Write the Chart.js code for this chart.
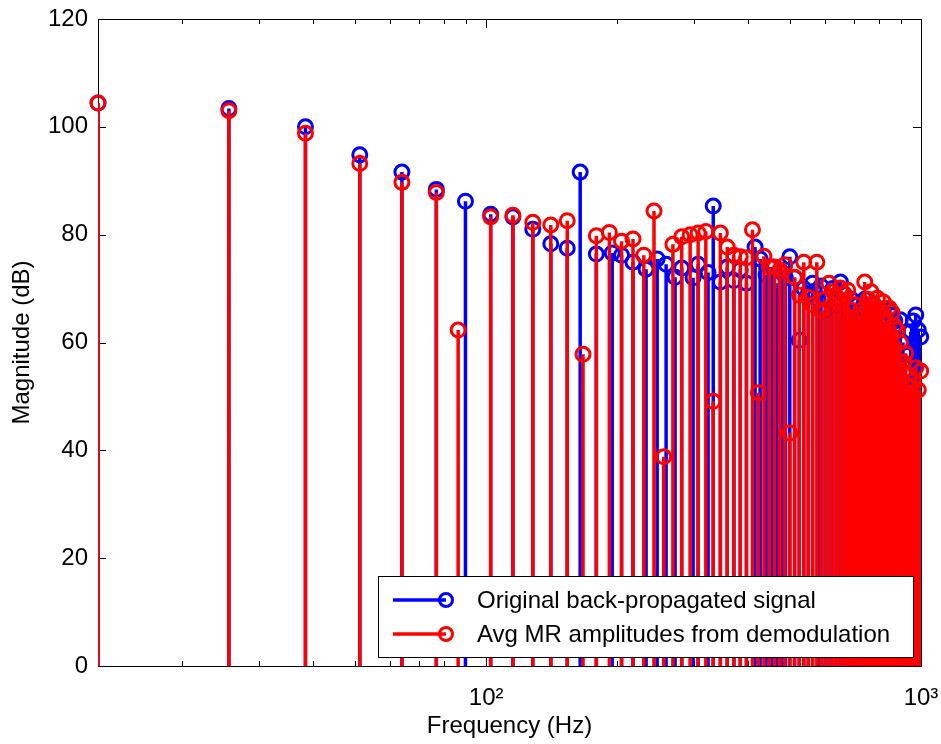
<!DOCTYPE html>
<html>
<head>
<meta charset="utf-8">
<script src="https://cdn.jsdelivr.net/npm/chart.js@4.4.1/dist/chart.umd.min.js"></script>
<style>
  html, body { margin: 0; padding: 0; background: #fff; }
</style>
</head>
<body>
<canvas id="stemChart" width="941" height="744"></canvas>
<script>
const FONT = "'Liberation Sans', Arial, sans-serif";

// axis setup
const xMin = 12.8;
const xMax = 1000;
const xTicks = [20, 30, 40, 50, 60, 70, 80, 90, 100, 200, 300, 400, 500, 600, 700, 800, 900, 1000];
const xTickLabels = { 100: "10²", 1000: "10³" };
const yTicks = [0, 20, 40, 60, 80, 100, 120];

const seriesLabels = ["Original back-propagated signal", "Avg MR amplitudes from demodulation"];
const seriesColors = ["#0000ff", "#ff0000"];

// original back-propagated signal (blue)
const origFreq = [
  12.8, 25.6, 38.4, 51.2, 64, 76.8, 89.6, 102.4, 115.2, 128,
  140.8, 153.6, 164.5, 179.2, 194.9, 204.8, 217.6, 233.2, 247.3, 259.3,
  271.9, 281.6, 299.1, 307.2, 323.8, 332.8, 345.6, 358.4, 371.2, 384,
  396.8, 415.3, 426.6, 440.4, 454.6, 466.7, 479, 488, 499.2, 512,
  524.8, 537.6, 550.4, 563.2, 579.9, 588.8, 601.6, 614.4, 627.2, 640,
  652.8, 665.6, 678.4, 691.2, 704, 716.8, 729.6, 742.4, 755.2, 768,
  780.8, 793.6, 806.4, 819.2, 832, 844.8, 857.6, 870.4, 883.2, 896,
  908.8, 921.6, 934.4, 947.2, 960, 972.8, 985.6, 998.4
];
const origMag = [
  104.4, 103.4, 100.0, 94.8, 91.6, 88.4, 86.2, 83.8, 83.3, 81.0,
  78.3, 77.5, 91.6, 76.4, 76.6, 76.2, 74.9, 73.6, 75.5, 74.5,
  72.1, 73.8, 72.0, 74.5, 73.0, 85.3, 71.2, 74.0, 71.5, 73.5,
  71.0, 77.7, 75.5, 72.5, 74.0, 71.0, 73.0, 72.0, 75.9, 72.0,
  60.4, 70.0, 69.0, 71.0, 68.0, 70.5, 66.0, 68.0, 70.0, 67.0,
  71.2, 69.0, 66.0, 68.0, 64.0, 67.0, 65.0, 68.0, 66.0, 67.0,
  65.0, 66.0, 64.0, 66.0, 63.0, 66.0, 65.0, 64.0, 62.0, 64.2,
  60.0, 57.7, 40.5, 62.0, 64.0, 65.1, 62.3, 61.0
];

// avg MR amplitudes from demodulation (red)
const avgFreq = [
  12.8, 25.6, 38.4, 51.2, 64, 76.8, 86.2, 102.4, 115.2, 128,
  140.8, 153.6, 167, 179.2, 192, 204.8, 217.6, 230.4, 243.2, 256,
  268.8, 281.6, 294.4, 307.2, 320, 332.8, 345.6, 358.4, 371.2, 384,
  396.8, 409.6, 422.4, 435.2, 448, 460.8, 473.6, 486.4, 499.2, 512,
  524.8, 537.6, 550.4, 563.2, 576, 588.8, 601.6, 614.4, 627.2, 640,
  652.8, 665.6, 678.4, 691.2, 704, 716.8, 729.6, 742.4, 755.2, 768,
  780.8, 793.6, 806.4, 819.2, 832, 844.8, 857.6, 870.4, 883.2, 896,
  908.8, 921.6, 934.4, 947.2, 960, 972.8, 985.6, 998.4
];
const avgMag = [
  104.4, 103.0, 98.8, 93.2, 89.7, 87.8, 62.3, 83.3, 83.6, 82.3,
  81.8, 82.6, 57.8, 79.8, 80.4, 78.8, 79.2, 76.2, 84.4, 38.8,
  78.2, 79.6, 80.0, 80.3, 80.6, 49.1, 80.3, 77.7, 76.2, 75.9,
  75.7, 80.9, 50.7, 76.0, 74.0, 74.0, 73.5, 74.4, 43.2, 72.1,
  68.8, 74.9, 68.4, 67.0, 74.9, 66.0, 68.0, 71.0, 69.4, 68.4,
  70.1, 69.0, 69.7, 66.0, 67.0, 64.7, 66.0, 71.2, 68.0, 69.4,
  67.0, 68.2, 66.0, 67.5, 64.0, 66.4, 65.6, 63.0, 62.3, 60.0,
  56.4, 58.0, 54.0, 52.0, 53.0, 55.3, 51.2, 54.7
];

function stemPoints(freq, mag) {
  const pts = [];
  freq.forEach((f, i) => {
    pts.push({ x: f, y: 0 });
    pts.push({ x: f, y: mag[i] });
    pts.push({ x: f, y: null });
  });
  return pts;
}

function headPoints(freq, mag) {
  return freq.map((f, i) => ({ x: f, y: mag[i] }));
}

function stemDataset(freq, mag, color, order) {
  return {
    type: "scatter",
    data: stemPoints(freq, mag),
    showLine: true,
    spanGaps: false,
    borderColor: color,
    borderWidth: 3.5,
    pointRadius: 0,
    order: order,
  };
}

function headDataset(freq, mag, color, order) {
  return {
    type: "scatter",
    data: headPoints(freq, mag),
    showLine: false,
    pointStyle: "circle",
    pointRadius: 7,
    borderWidth: 3,
    borderColor: color,
    backgroundColor: "rgba(0,0,0,0)",
    clip: false,
    order: order,
  };
}

// box, inward ticks
const framePlugin = {
  id: "frame",
  beforeDatasetsDraw(chart) {
    const { ctx, chartArea: a, scales } = chart;
    ctx.save();
    ctx.strokeStyle = "#000";
    ctx.lineWidth = 1;
    ctx.strokeRect(a.left + 0.5, a.top + 0.5, a.right - a.left, a.bottom - a.top);
    ctx.beginPath();
    yTicks.forEach((v) => {
      const y = Math.round(scales.y.getPixelForValue(v)) + 0.5;
      ctx.moveTo(a.left, y); ctx.lineTo(a.left + 8, y);
      ctx.moveTo(a.right, y); ctx.lineTo(a.right - 8, y);
    });
    xTicks.forEach((v) => {
      const x = Math.round(scales.x.getPixelForValue(v)) + 0.5;
      const len = xTickLabels[v] ? 9 : 5;
      ctx.moveTo(x, a.bottom); ctx.lineTo(x, a.bottom - len);
      ctx.moveTo(x, a.top); ctx.lineTo(x, a.top + len);
    });
    ctx.stroke();
    ctx.restore();
  },
};

// MATLAB style legend box inside the axes
const legendPlugin = {
  id: "boxLegend",
  afterDatasetsDraw(chart) {
    const ctx = chart.ctx;
    const box = { left: 378, top: 576, right: 913, bottom: 657 };
    const rows = [600, 634];
    ctx.save();
    ctx.fillStyle = "#fff";
    ctx.fillRect(box.left, box.top, box.right - box.left, box.bottom - box.top);
    ctx.strokeStyle = "#000";
    ctx.lineWidth = 1;
    ctx.strokeRect(box.left + 0.5, box.top + 0.5, box.right - box.left, box.bottom - box.top);
    seriesLabels.forEach((label, i) => {
      const y = rows[i];
      ctx.strokeStyle = seriesColors[i];
      ctx.lineWidth = 3.5;
      ctx.beginPath();
      ctx.moveTo(393, y);
      ctx.lineTo(446, y);
      ctx.stroke();
      ctx.lineWidth = 3;
      ctx.beginPath();
      ctx.arc(446, y, 6.5, 0, Math.PI * 2);
      ctx.stroke();
      ctx.fillStyle = "#000";
      ctx.font = "24px " + FONT;
      ctx.textBaseline = "middle";
      ctx.textAlign = "left";
      ctx.fillText(label, 477, y + 1);
    });
    ctx.restore();
  },
};

const ctx = document.getElementById("stemChart").getContext("2d");

new Chart(ctx, {
  data: {
    datasets: [
      stemDataset(origFreq, origMag, seriesColors[0], 3),
      headDataset(origFreq, origMag, seriesColors[0], 2),
      stemDataset(avgFreq, avgMag, seriesColors[1], 1),
      headDataset(avgFreq, avgMag, seriesColors[1], 0),
    ],
  },
  options: {
    responsive: false,
    animation: false,
    devicePixelRatio: 1,
    layout: { padding: { top: 19, right: 20, left: 0, bottom: 0 } },
    plugins: {
      legend: { display: false },
      tooltip: { enabled: false },
    },
    scales: {
      x: {
        type: "logarithmic",
        min: xMin,
        max: xMax,
        grid: { display: false, drawTicks: false },
        border: { display: false },
        afterBuildTicks: (scale) => {
          scale.ticks = xTicks.map((v) => ({ value: v }));
        },
        afterFit: (scale) => {
          scale.height = 78;
          scale.paddingLeft = 0;
          scale.paddingRight = 0;
        },
        ticks: {
          autoSkip: false,
          maxRotation: 0,
          padding: 18,
          color: "#000",
          font: { family: FONT, size: 24 },
          callback: (v) => xTickLabels[v] || "",
        },
        title: {
          display: true,
          text: "Frequency (Hz)",
          color: "#000",
          font: { family: FONT, size: 24 },
          padding: { top: 0, bottom: 3 },
        },
      },
      y: {
        type: "linear",
        min: 0,
        max: 120,
        grid: { display: false, drawTicks: false },
        border: { display: false },
        afterFit: (scale) => {
          scale.width = 98;
          scale.paddingTop = 0;
          scale.paddingBottom = 0;
        },
        ticks: {
          stepSize: 20,
          padding: 10,
          color: "#000",
          font: { family: FONT, size: 24 },
        },
        title: {
          display: true,
          text: "Magnitude (dB)",
          color: "#000",
          font: { family: FONT, size: 24 },
          padding: { top: 8, bottom: 0 },
        },
      },
    },
  },
  plugins: [framePlugin, legendPlugin],
});
</script>
</body>
</html>
